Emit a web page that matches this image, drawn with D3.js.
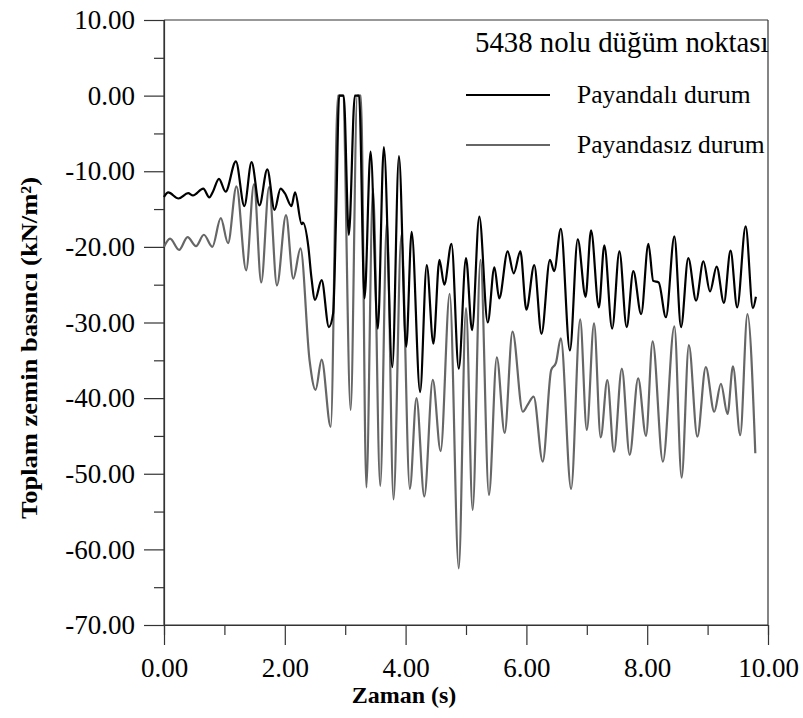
<!DOCTYPE html>
<html><head><meta charset="utf-8">
<script src="https://cdn.jsdelivr.net/npm/d3@7"></script>
<style>body{margin:0;background:#fff}svg{display:block}text{font-family:"Liberation Serif","Times New Roman",serif;fill:#000}</style>
</head><body><svg id="c" width="803" height="718"></svg>
<script>
const timeBlack = [0.00,0.07,0.24,0.40,0.48,0.65,0.75,0.81,0.91,1.02,1.19,1.33,1.45,1.58,1.71,1.83,1.93,2.00,2.11,2.17,2.28,2.30,2.39,2.44,2.50,2.61,2.73,2.80,2.85,2.90,2.975,3.06,3.16,3.23,3.32,3.42,3.54,3.64,3.78,3.89,4.01,4.10,4.24,4.35,4.46,4.56,4.64,4.76,4.88,5.00,5.10,5.22,5.36,5.47,5.55,5.69,5.79,5.90,6.00,6.13,6.25,6.39,6.46,6.57,6.72,6.85,6.98,7.07,7.20,7.29,7.42,7.54,7.66,7.77,7.90,8.02,8.10,8.19,8.31,8.45,8.56,8.68,8.81,8.93,9.04,9.15,9.27,9.38,9.49,9.63,9.75,9.80];
const payandali = [-13.4,-12.8,-13.6,-12.9,-13.2,-12.3,-13.45,-12.7,-11.0,-12.7,-8.7,-14.6,-8.8,-14.5,-9.75,-15.1,-12.3,-12.9,-14.6,-12.8,-17.0,-16.8,-20.0,-24.0,-27.0,-24.4,-30.6,-28.8,-15.6,0,0,-18.4,0,0,-26.8,-7.4,-30.8,-6.8,-35.9,-8.0,-33.2,-18.0,-39.2,-22.4,-32.8,-21.7,-25.0,-19.6,-36.1,-21.5,-31.0,-16.0,-30.0,-22.7,-26.8,-20.6,-23.5,-20.6,-28.3,-22.4,-31.5,-21.7,-23.2,-17.6,-33.7,-19.0,-26.6,-17.8,-28.0,-19.8,-30.8,-20.6,-30.6,-23.2,-28.9,-19.6,-24.5,-24.7,-29.3,-18.6,-30.6,-21.5,-27.1,-21.9,-25.9,-22.6,-27.4,-20.5,-28.0,-17.3,-28.1,-26.6];
const timeGray = [0.00,0.10,0.25,0.39,0.53,0.66,0.80,0.94,1.06,1.20,1.36,1.49,1.61,1.74,1.87,2.02,2.14,2.26,2.41,2.51,2.61,2.76,2.88,2.96,3.09,3.20,3.26,3.35,3.46,3.58,3.69,3.80,3.93,4.07,4.18,4.31,4.45,4.58,4.73,4.88,5.00,5.11,5.24,5.38,5.51,5.64,5.77,5.94,6.02,6.12,6.27,6.41,6.49,6.57,6.74,6.89,7.00,7.12,7.23,7.34,7.45,7.58,7.71,7.85,7.98,8.09,8.26,8.45,8.57,8.69,8.83,8.97,9.11,9.22,9.33,9.42,9.54,9.66,9.79];
const payandasiz = [-20.0,-18.9,-20.4,-18.7,-19.9,-18.4,-20.0,-16.2,-19.5,-12.0,-23.1,-11.7,-24.7,-12.1,-25.1,-15.8,-24.2,-20.2,-35.0,-38.9,-34.9,-43.8,0,0,-41.6,0,0,-51.8,-12.3,-51.6,-16.7,-53.4,-18.4,-52.0,-40.0,-53.0,-37.6,-47.0,-26.2,-62.5,-28.1,-54.8,-21.7,-52.8,-34.6,-44.6,-31.2,-41.8,-40.9,-39.8,-48.4,-36.3,-35.3,-32.1,-52.0,-29.6,-44.2,-30.1,-45.2,-37.6,-47.1,-36.1,-47.5,-37.4,-45.0,-32.5,-48.4,-30.5,-50.5,-33.0,-45.1,-35.9,-41.8,-38.1,-42.1,-35.8,-44.9,-28.9,-47.3];
const xTicks = [0,2,4,6,8,10];
const xMinor = [1,3,5,7,9];
const yTicks = [10,0,-10,-20,-30,-40,-50,-60,-70];
const yMinor = [5,-5,-15,-25,-35,-45,-55,-65];
const seriesNames = ["Payandalı durum","Payandasız durum"];
const legendTitle = "5438 nolu düğüm noktası";
const xTitle = "Zaman (s)";
const yTitle = "Toplam zemin basıncı (kN/m²)";

const L=164, R=768, T=20, B=625;
const svg = d3.select("#c");
const x = d3.scaleLinear().domain([0,10]).range([L,R]);
const y = d3.scaleLinear().domain([-70,10]).range([B,T]);
const axisColor = "#333";

svg.append("line").attr("x1",L).attr("x2",R).attr("y1",T).attr("y2",T).attr("stroke",axisColor).attr("stroke-width",1.2);
svg.append("line").attr("x1",R).attr("x2",R).attr("y1",T).attr("y2",B).attr("stroke",axisColor).attr("stroke-width",1.2);

const fmt = d => d.toFixed(2);
const xa = svg.append("g").attr("transform",`translate(0,${B})`)
  .call(d3.axisBottom(x).tickValues(xTicks).tickSize(20).tickPadding(13).tickFormat(fmt));
const xm = svg.append("g").attr("transform",`translate(0,${B})`)
  .call(d3.axisBottom(x).tickValues(xMinor).tickSize(10).tickFormat(""));
const ya = svg.append("g").attr("transform",`translate(${L},0)`)
  .call(d3.axisLeft(y).tickValues(yTicks).tickSize(20).tickPadding(9).tickFormat(fmt));
const ym = svg.append("g").attr("transform",`translate(${L},0)`)
  .call(d3.axisLeft(y).tickValues(yMinor).tickSize(10).tickFormat(""));
[xa,xm,ya,ym].forEach(g=>{
  g.selectAll("path").attr("stroke",axisColor).attr("stroke-width",1.2);
  g.selectAll("line").attr("stroke",axisColor).attr("stroke-width",1.2);
  g.selectAll("text").attr("font-family","Liberation Serif").attr("font-size",27).attr("fill","#000");
});
xa.select(".domain").attr("d",`M${L},0H${R}`);
ya.select(".domain").attr("d",`M0,${T}V${B}`);

const mk = (ts)=>d3.line().x((d,i)=>x(ts[i])).y(d=>y(d)).curve(d3.curveMonotoneX);
svg.append("path").attr("d",mk(timeGray)(payandasiz)).attr("fill","none").attr("stroke","#666").attr("stroke-width",2.2);
svg.append("path").attr("d",mk(timeBlack)(payandali)).attr("fill","none").attr("stroke","#000").attr("stroke-width",2.2);

svg.append("text").attr("x",404).attr("y",703).attr("text-anchor","middle")
  .attr("font-weight","bold").attr("font-size",24).text(xTitle);
svg.append("text").attr("transform","translate(37,348) rotate(-90)").attr("text-anchor","middle")
  .attr("font-weight","bold").attr("font-size",23).attr("textLength",342).attr("lengthAdjust","spacingAndGlyphs").text(yTitle);

svg.append("text").attr("x",475).attr("y",52).attr("font-size",28.8).text(legendTitle);
const lg = [{c:"#000",y:95},{c:"#666",y:145}];
lg.forEach((d,i)=>{
  svg.append("line").attr("x1",466).attr("x2",550).attr("y1",d.y).attr("y2",d.y).attr("stroke",d.c).attr("stroke-width",2);
  svg.append("text").attr("x",577).attr("y",d.y+8).attr("font-size",25.5).text(seriesNames[i]);
});
</script></body></html>
